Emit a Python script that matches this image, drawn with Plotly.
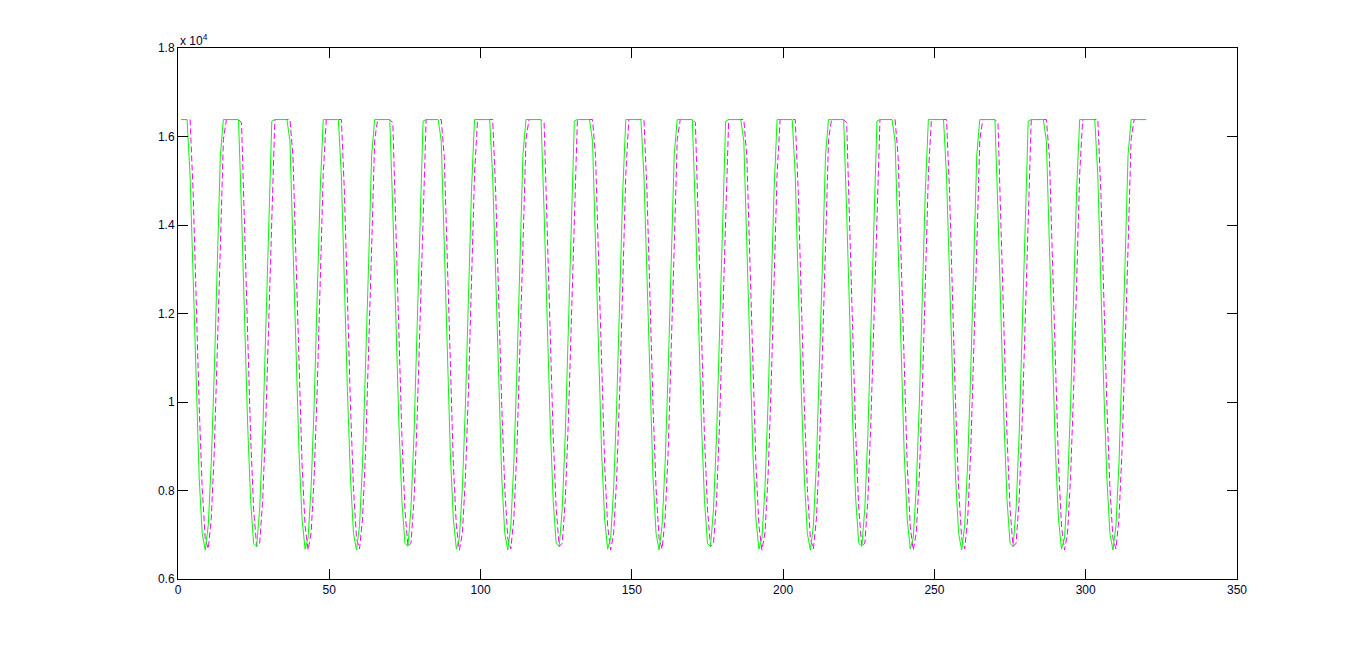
import plotly.graph_objects as go

# sample index 1..320
sample_idx = list(range(1, 321))

# green (solid) series
green_vals = [
    16383, 16383, 16383, 15108, 12627, 10240, 8282, 7029, 6655, 7213,
    8626, 10694, 13127, 15584, 16383, 16383, 16383, 16383, 16383, 16383,
    14292, 11804, 9526, 7776, 6801, 6739, 7596, 9254, 11480, 13961,
    16348, 16383, 16383, 16383, 16383, 16383, 15894, 13461, 11004, 8866,
    7356, 6676, 6926, 8070, 9948, 12296, 14784, 16383, 16383, 16383,
    16383, 16383, 16383, 15108, 12627, 10240, 8282, 7029, 6655, 7213,
    8626, 10694, 13127, 15584, 16383, 16383, 16383, 16383, 16383, 16383,
    14292, 11804, 9526, 7776, 6801, 6739, 7596, 9254, 11480, 13961,
    16348, 16383, 16383, 16383, 16383, 16383, 15894, 13461, 11004, 8866,
    7356, 6676, 6926, 8070, 9948, 12296, 14784, 16383, 16383, 16383,
    16383, 16383, 16383, 15108, 12627, 10240, 8282, 7029, 6655, 7213,
    8626, 10694, 13127, 15584, 16383, 16383, 16383, 16383, 16383, 16383,
    14292, 11804, 9526, 7776, 6801, 6739, 7596, 9254, 11480, 13961,
    16348, 16383, 16383, 16383, 16383, 16383, 15894, 13461, 11004, 8866,
    7356, 6676, 6926, 8070, 9948, 12296, 14784, 16383, 16383, 16383,
    16383, 16383, 16383, 15108, 12627, 10240, 8282, 7029, 6655, 7213,
    8626, 10694, 13127, 15584, 16383, 16383, 16383, 16383, 16383, 16383,
    14292, 11804, 9526, 7776, 6801, 6739, 7596, 9254, 11480, 13961,
    16348, 16383, 16383, 16383, 16383, 16383, 15894, 13461, 11004, 8866,
    7356, 6676, 6926, 8070, 9948, 12296, 14784, 16383, 16383, 16383,
    16383, 16383, 16383, 15108, 12627, 10240, 8282, 7029, 6655, 7213,
    8626, 10694, 13127, 15584, 16383, 16383, 16383, 16383, 16383, 16383,
    14292, 11804, 9526, 7776, 6801, 6739, 7596, 9254, 11480, 13961,
    16348, 16383, 16383, 16383, 16383, 16383, 15894, 13461, 11004, 8866,
    7356, 6676, 6926, 8070, 9948, 12296, 14784, 16383, 16383, 16383,
    16383, 16383, 16383, 15108, 12627, 10240, 8282, 7029, 6655, 7213,
    8626, 10694, 13127, 15584, 16383, 16383, 16383, 16383, 16383, 16383,
    14292, 11804, 9526, 7776, 6801, 6739, 7596, 9254, 11480, 13961,
    16348, 16383, 16383, 16383, 16383, 16383, 15894, 13461, 11004, 8866,
    7356, 6676, 6926, 8070, 9948, 12296, 14784, 16383, 16383, 16383,
    16383, 16383, 16383, 15108, 12627, 10240, 8282, 7029, 6655, 7213,
    8626, 10694, 13127, 15584, 16383, 16383, 16383, 16383, 16383, 16383,
]

# magenta (dashed) series, slightly lagging the green one
magenta_vals = [
    16383, 16383, 16383, 16383, 14743, 12255, 9912, 8044, 6914, 6679,
    7374, 8900, 11044, 13503, 15932, 16383, 16383, 16383, 16383, 16383,
    16310, 13919, 11440, 9222, 7575, 6732, 6810, 7799, 9559, 11845,
    14333, 16383, 16383, 16383, 16383, 16383, 16383, 15544, 13085, 10656,
    8596, 7196, 6653, 7043, 8310, 10278, 12669, 15148, 16383, 16383,
    16383, 16383, 16383, 16383, 14743, 12255, 9912, 8044, 6914, 6679,
    7374, 8900, 11044, 13503, 15932, 16383, 16383, 16383, 16383, 16383,
    16310, 13919, 11440, 9222, 7575, 6732, 6810, 7799, 9559, 11845,
    14333, 16383, 16383, 16383, 16383, 16383, 16383, 15544, 13085, 10656,
    8596, 7196, 6653, 7043, 8310, 10278, 12669, 15148, 16383, 16383,
    16383, 16383, 16383, 16383, 14743, 12255, 9912, 8044, 6914, 6679,
    7374, 8900, 11044, 13503, 15932, 16383, 16383, 16383, 16383, 16383,
    16310, 13919, 11440, 9222, 7575, 6732, 6810, 7799, 9559, 11845,
    14333, 16383, 16383, 16383, 16383, 16383, 16383, 15544, 13085, 10656,
    8596, 7196, 6653, 7043, 8310, 10278, 12669, 15148, 16383, 16383,
    16383, 16383, 16383, 16383, 14743, 12255, 9912, 8044, 6914, 6679,
    7374, 8900, 11044, 13503, 15932, 16383, 16383, 16383, 16383, 16383,
    16310, 13919, 11440, 9222, 7575, 6732, 6810, 7799, 9559, 11845,
    14333, 16383, 16383, 16383, 16383, 16383, 16383, 15544, 13085, 10656,
    8596, 7196, 6653, 7043, 8310, 10278, 12669, 15148, 16383, 16383,
    16383, 16383, 16383, 16383, 14743, 12255, 9912, 8044, 6914, 6679,
    7374, 8900, 11044, 13503, 15932, 16383, 16383, 16383, 16383, 16383,
    16310, 13919, 11440, 9222, 7575, 6732, 6810, 7799, 9559, 11845,
    14333, 16383, 16383, 16383, 16383, 16383, 16383, 15544, 13085, 10656,
    8596, 7196, 6653, 7043, 8310, 10278, 12669, 15148, 16383, 16383,
    16383, 16383, 16383, 16383, 14743, 12255, 9912, 8044, 6914, 6679,
    7374, 8900, 11044, 13503, 15932, 16383, 16383, 16383, 16383, 16383,
    16310, 13919, 11440, 9222, 7575, 6732, 6810, 7799, 9559, 11845,
    14333, 16383, 16383, 16383, 16383, 16383, 16383, 15544, 13085, 10656,
    8596, 7196, 6653, 7043, 8310, 10278, 12669, 15148, 16383, 16383,
    16383, 16383, 16383, 16383, 14743, 12255, 9912, 8044, 6914, 6679,
    7374, 8900, 11044, 13503, 15932, 16383, 16383, 16383, 16383, 16383,
]

x_ticks = [0, 50, 100, 150, 200, 250, 300, 350]
y_ticks = [6000, 8000, 10000, 12000, 14000, 16000, 18000]
y_ticktext = ['0.6', '0.8', '1', '1.2', '1.4', '1.6', '1.8']

FONT = dict(family='Liberation Sans, Arial, sans-serif', size=12, color='#000033')

fig = go.Figure()
fig.add_trace(go.Scatter(x=sample_idx, y=magenta_vals, mode='lines',
                         line=dict(color='#ff00ff', width=1, dash='6px,3px')))
fig.add_trace(go.Scatter(x=sample_idx, y=green_vals, mode='lines',
                         line=dict(color='#00ff00', width=1)))

axis_common = dict(showline=True, linecolor='black', linewidth=1, mirror='ticks',
                   ticks='inside', ticklen=10, tickcolor='black', tickwidth=1,
                   showgrid=False, zeroline=False, tickfont=FONT)

# page body adds ~8px offset, so margins are trimmed by that amount
fig.update_layout(
    width=1350, height=635,
    margin=dict(l=170, r=121, t=40, b=64),
    paper_bgcolor='white', plot_bgcolor='white',
    showlegend=False,
    xaxis=dict(range=[0, 350], tickvals=x_ticks, **axis_common),
    yaxis=dict(range=[6000, 18000], tickvals=y_ticks, ticktext=y_ticktext, **axis_common),
    annotations=[dict(text='x 10<sup>4</sup>', xref='paper', yref='paper', x=0, y=1,
                      xanchor='left', yanchor='bottom', showarrow=False, yshift=-2,
                      font=FONT)],
)

fig.write_html("out.html")
